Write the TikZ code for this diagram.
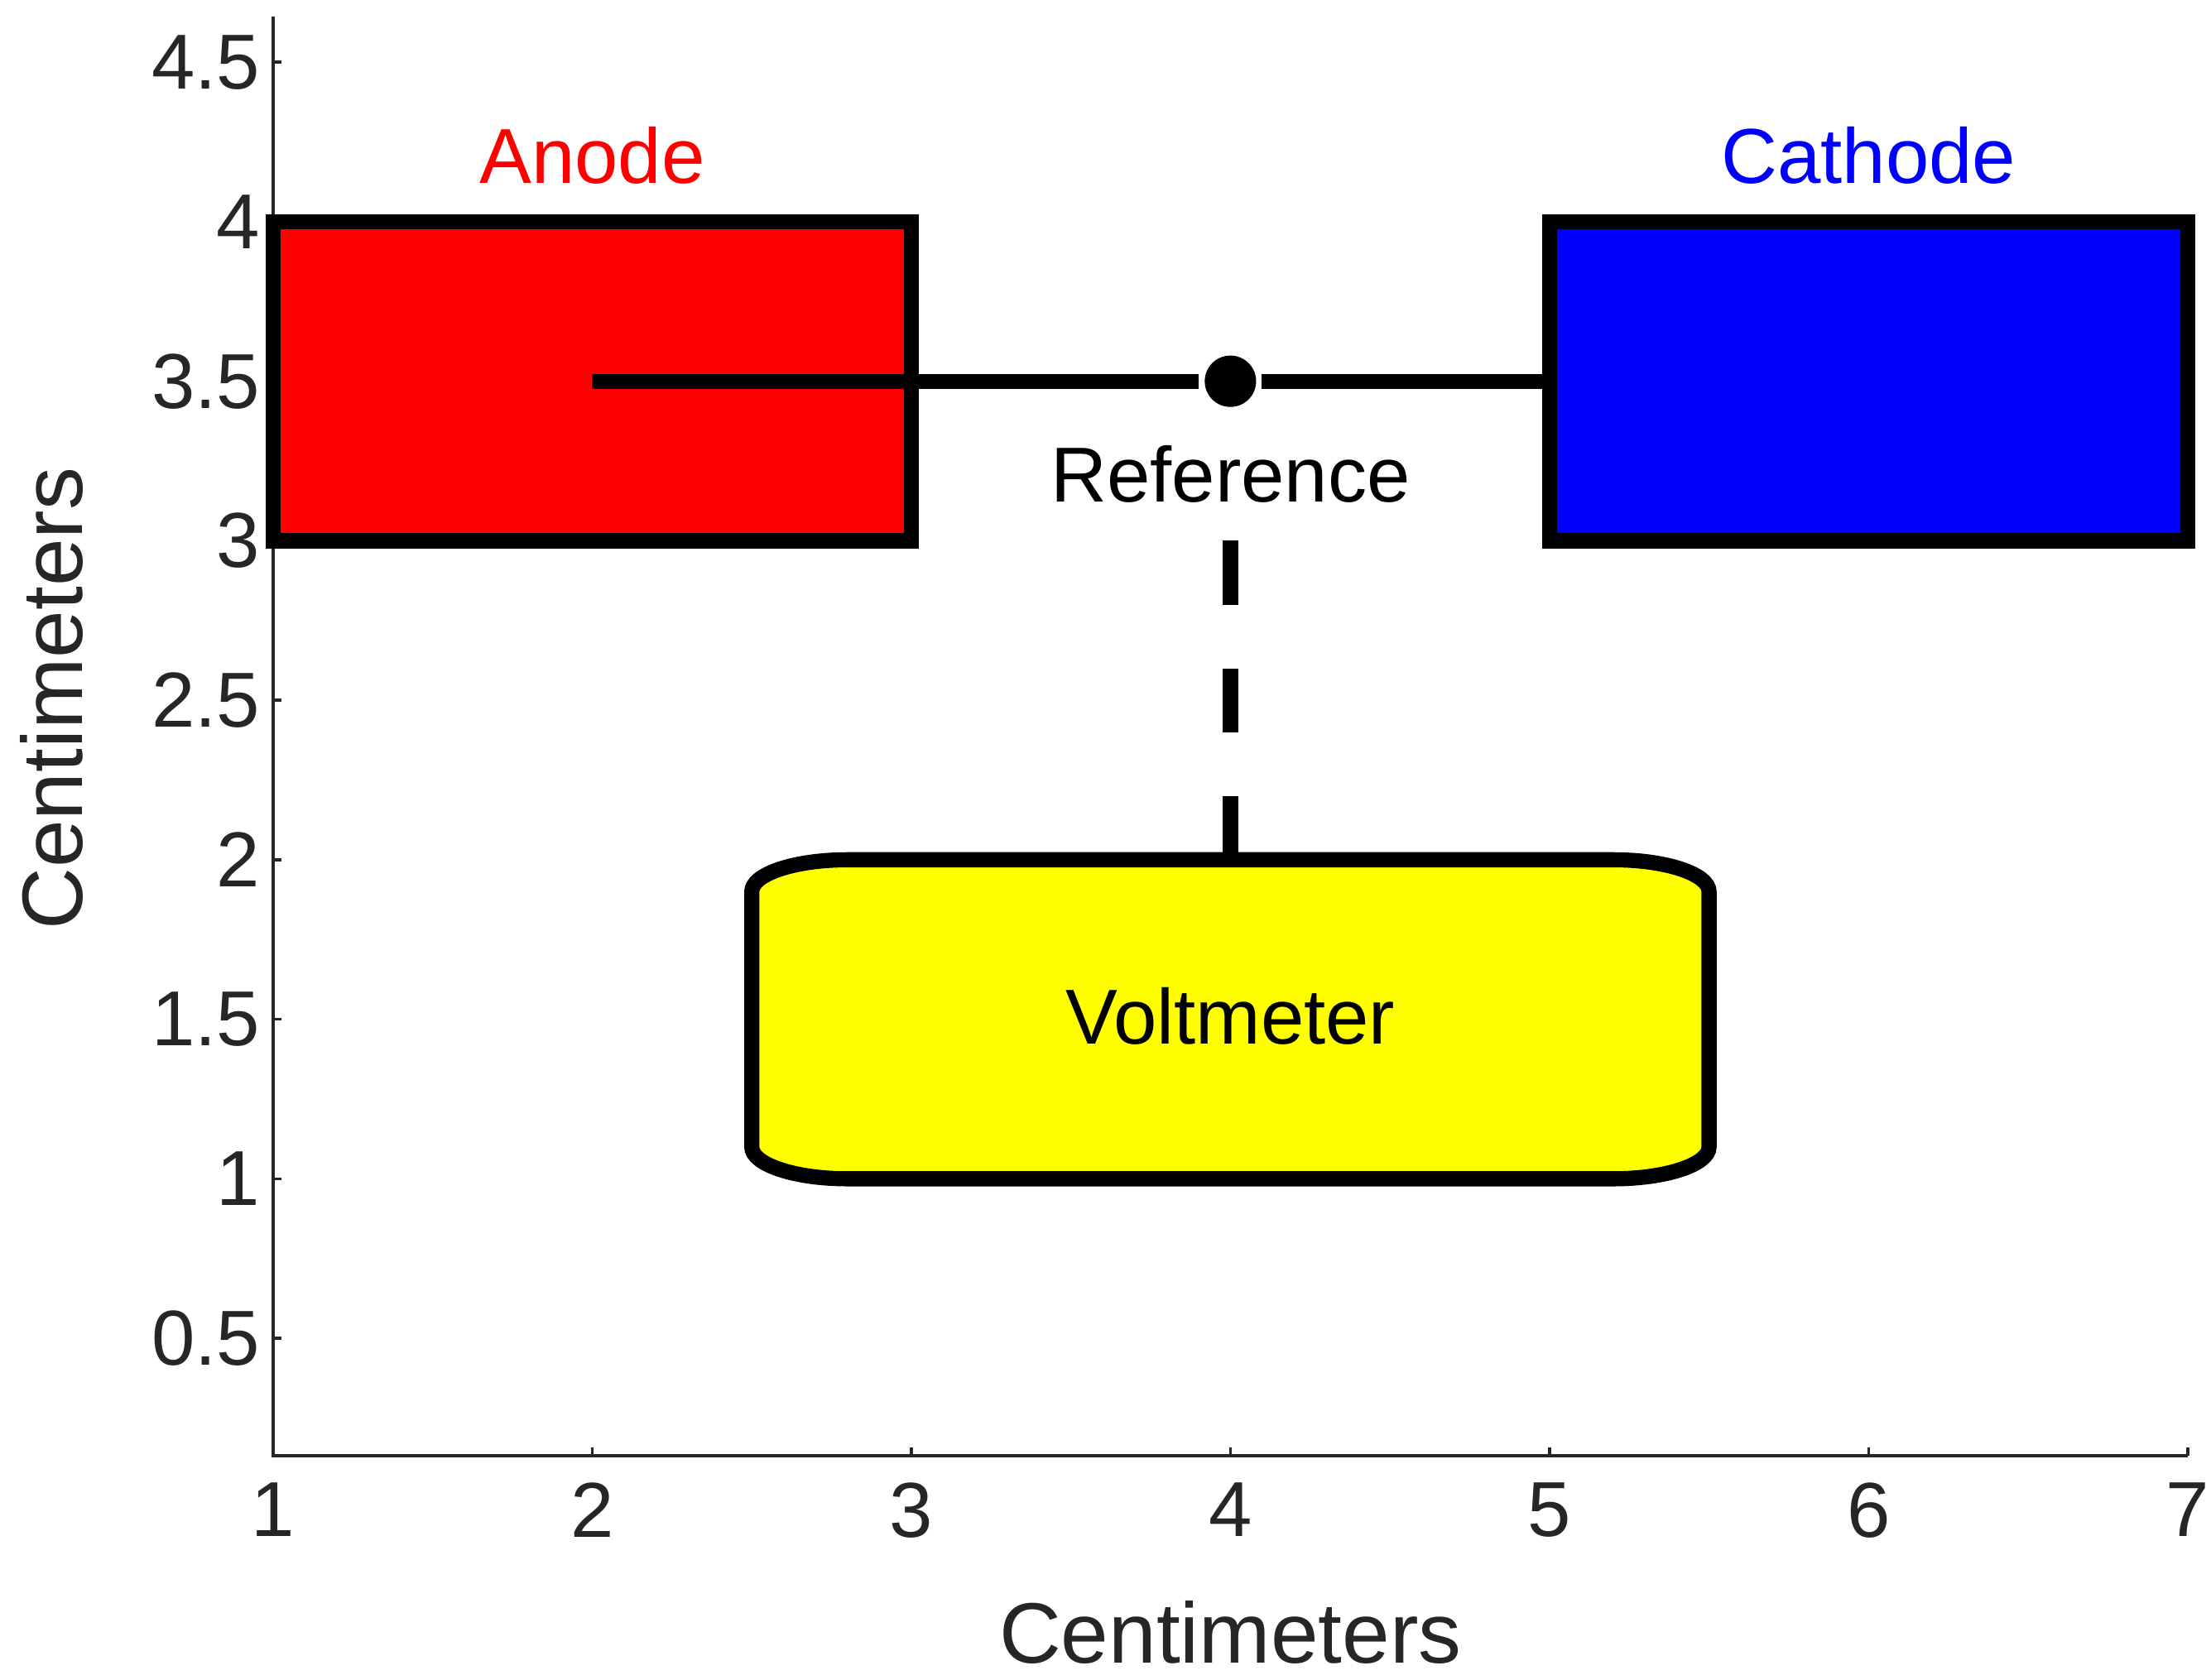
\documentclass[tikz,border=0pt]{standalone}
\usepackage{fontspec}
\setmainfont{Liberation Sans}
\definecolor{axgray}{HTML}{262626}
\definecolor{pureyellow}{RGB}{255,255,0}
\definecolor{purered}{RGB}{255,0,0}
\definecolor{pureblue}{RGB}{0,0,255}
\begin{document}
\begin{tikzpicture}[x=2cm,y=2cm,
  lbl/.style={font=\fontsize{13.9}{16}\selectfont, inner sep=0pt},
  ticklbl/.style={lbl, text=axgray},
  axlbl/.style={font=\fontsize{15.3}{18}\selectfont, text=axgray, inner sep=0pt},
  axisline/.style={draw=axgray, line width=0.5pt},
  electrode/.style={draw=black, line width=2.7pt, minimum width=4cm, minimum height=2cm, inner sep=0pt, outer sep=0pt},
  wire/.style={draw=black, line width=2.7pt},
  dashwire/.style={wire, dash pattern=on 0.4cm off 0.4cm},
  voltbox/.style={fill=pureyellow, draw=black, line width=2.7pt},
  refdotstyle/.style={circle, fill=black, minimum size=0.322cm, inner sep=0pt, outer sep=0.036cm}
]
\useasboundingbox (0.144,-0.571) rectangle (7.073,4.695);
% axes
\draw[axisline] (1,4.643) -- (1,0.132) -- (7,0.132);
\foreach \x in {1,...,7} {
  \draw[axisline] (\x,0.132) -- ++(0,0.025);
  \node[ticklbl, anchor=north] (xt\x) at (\x,0.051) {\x};
}
\foreach \y [count=\i] in {0.5,1,1.5,2,2.5,3,3.5,4,4.5} {
  \draw[axisline] (1,\y) -- ++(0.025,0);
  \node[ticklbl, anchor=east] (yt\i) at (0.962,\y) {\y};
}
\node[axlbl, anchor=base] (xlabel) at (4,-0.518) {Centimeters};
\node[axlbl, rotate=90] (ylabel) at (0.307,2.505) {Centimeters};
% electrodes
\node[electrode, fill=purered] (anode) at (2,3.5) {};
\node[electrode, fill=pureblue] (cathode) at (6,3.5) {};
\node[lbl, text=purered, anchor=base] (anodelbl) at (2,4.121) {Anode};
\node[lbl, text=pureblue, anchor=base] (cathodelbl) at (6,4.121) {Cathode};
% reference point
\node[refdotstyle] (refdot) at (4,3.5) {};
\draw[wire] (anode.center) -- (refdot);
\draw[wire] (refdot) -- (cathode.west);
\node[lbl, anchor=base] (ref) at (4,3.121) {Reference};
% voltmeter
\node[minimum width=6cm, minimum height=2cm, inner sep=0pt, outer sep=0pt] (volt) at (4,1.5) {};
\path[voltbox]
  ([yshift=0.2cm]volt.south west) -- ([yshift=-0.2cm]volt.north west)
  arc[start angle=180, end angle=90, x radius=0.6cm, y radius=0.2cm]
  -- ([xshift=-0.6cm]volt.north east)
  arc[start angle=90, end angle=0, x radius=0.6cm, y radius=0.2cm]
  -- ([yshift=0.2cm]volt.south east)
  arc[start angle=0, end angle=-90, x radius=0.6cm, y radius=0.2cm]
  -- ([xshift=0.6cm]volt.south west)
  arc[start angle=270, end angle=180, x radius=0.6cm, y radius=0.2cm]
  -- cycle;
\node[lbl, anchor=base] (volttext) at (4,1.422) {Voltmeter};
\draw[dashwire] ([yshift=-0.242cm]ref.base) -- (volt.north);
\end{tikzpicture}
\end{document}
